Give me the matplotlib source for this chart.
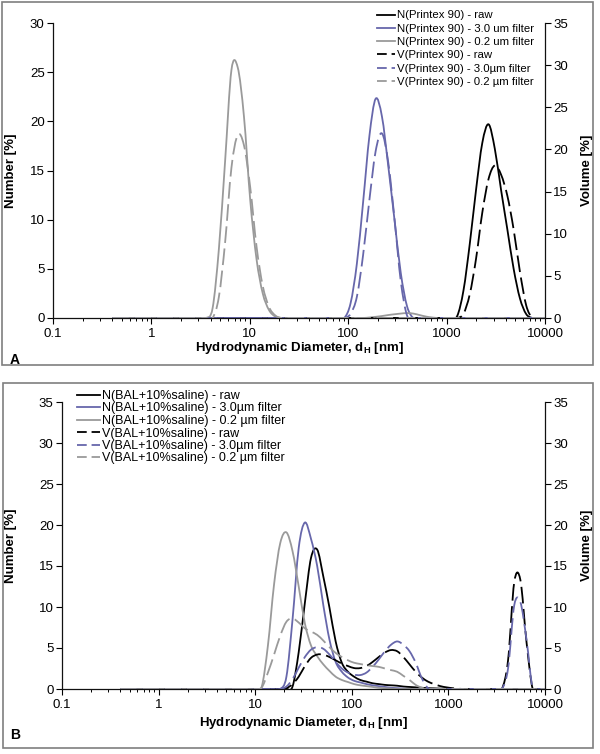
import matplotlib
matplotlib.use('Agg')
import numpy as np
import matplotlib.pyplot as plt
from matplotlib.patches import Rectangle, PathPatch
from matplotlib.path import Path
from matplotlib.lines import Line2D
from matplotlib.ticker import LogLocator, NullFormatter, FuncFormatter, MultipleLocator

# ---------------- data ----------------
# DLS size bins (nm)
SIZES = [0.4, 0.4632, 0.5365, 0.6213, 0.7195, 0.8332, 0.9649, 1.117, 1.294, 1.499,
         1.736, 2.01, 2.328, 2.696, 3.122, 3.615, 4.187, 4.849, 5.615, 6.503,
         7.531, 8.721, 10.1, 11.7, 13.54, 15.69, 18.17, 21.04, 24.36, 28.21,
         32.67, 37.84, 43.82, 50.75, 58.77, 68.06, 78.82, 91.28, 105.7, 122.4,
         141.8, 164.2, 190.1, 220.2, 255.0, 295.3, 342.0, 396.1, 458.7, 531.2,
         615.1, 712.4, 825.0, 955.4, 1106, 1281, 1484, 1718, 1990, 2305,
         2669, 3091, 3580, 4145, 4801, 5560, 6439, 7456, 8635, 10000]

# Panel A (Printex 90): number (left axis) and volume (right axis) distributions, %
A_N_RAW = [0]*55 + [0.2, 2.8, 7.5, 13, 17.8, 19.7, 17.2, 13, 9, 5, 2, 0.4] + [0]*3
A_N_3UM = [0]*38 + [1.5, 5.5, 11.8, 18.5, 22.3, 20.5, 15.5, 10, 4.6, 1.2] + [0]*22
A_N_02UM = ([0]*16 + [1, 7, 16, 25.2, 25.5, 20.5, 12, 6, 2.5, 0.8, 0.15] + [0]*14 +
            [0.05, 0.12, 0.2, 0.3, 0.38, 0.45, 0.5, 0.45, 0.3, 0.15, 0.05] + [0]*18)
A_V_RAW = [0]*56 + [0.5, 2.8, 7, 12.5, 16.5, 18.1, 17, 14.5, 10.5, 5.5, 1.5] + [0]*3
A_V_3UM = [0]*38 + [0.5, 2.5, 7.5, 14, 19.8, 21.9, 18.5, 11.8, 4.4, 0.3] + [0]*22
A_V_02UM = [0]*17 + [2.5, 9, 17.8, 21.7, 20.5, 15.5, 8.5, 3.8, 1.3, 0.3] + [0]*43

A_LABELS = ["N(Printex 90) - raw", "N(Printex 90) - 3.0 um filter",
            "N(Printex 90) - 0.2 um filter", "V(Printex 90) - raw",
            "V(Printex 90) - 3.0\u00b5m filter", "V(Printex 90) - 0.2 \u00b5m filter"]

# Panel B (BAL + 10% saline)
B_N_RAW = [0]*28 + [0.3, 4.5, 10.5, 16.0, 17.0, 13.7, 9.9, 5.8, 3.2, 2.1, 1.5, 1.1, 0.9,
                    0.7, 0.6, 0.5, 0.45, 0.4, 0.3, 0.25, 0.2, 0.15, 0.1, 0.08, 0.05, 0.03] + [0]*16
B_N_3UM = [0]*27 + [1.5, 8.5, 17.2, 20.3, 18.3, 15.0, 10.2, 6.0, 3.3, 2.1, 1.4, 1.0, 0.8,
                    0.6, 0.45, 0.35, 0.25, 0.15, 0.1, 0.05] + [0]*23
B_N_02UM = [0]*23 + [0.3, 5.3, 12.8, 17.8, 19.1, 16.8, 12.5, 8.0, 5.3, 4.0, 3.0, 2.2, 1.5,
                     1.1, 0.85, 0.6, 0.45, 0.35, 0.25, 0.15, 0.1, 0.05] + [0]*25
B_V_RAW = ([0]*27 + [0.1, 0.6, 1.5, 2.8, 3.8, 4.2, 4.2, 3.9, 3.5, 3.1, 2.8, 2.55, 2.55, 2.8,
                     3.3, 3.9, 4.45, 4.75, 4.6, 3.9, 3.0, 2.1, 1.4, 0.9, 0.6, 0.35, 0.2, 0.1, 0.03]
           + [0]*7 + [3.5, 13.0, 13.3, 5.7] + [0]*3)
B_V_3UM = ([0]*27 + [0.3, 1.2, 2.6, 3.9, 4.8, 5.1, 4.9, 4.2, 3.3, 2.5, 2.0, 1.75, 1.7, 2.0,
                     2.7, 3.6, 4.6, 5.4, 5.8, 5.4, 4.6, 3.2, 1.3, 0.1]
           + [0]*12 + [2.5, 10.2, 10.6, 6.0] + [0]*3)
B_V_02UM = [0]*23 + [0.2, 2.0, 4.2, 6.5, 8.2, 8.6, 8.1, 7.4, 7.0, 6.6, 5.9, 5.1, 4.4, 3.9,
                     3.5, 3.2, 3.05, 2.9, 2.8, 2.7, 2.5, 2.3, 2.1, 1.6, 1.1, 0.5, 0.15] + [0]*20

B_LABELS = ["N(BAL+10%saline) - raw", "N(BAL+10%saline) - 3.0\u00b5m filter",
            "N(BAL+10%saline) - 0.2 \u00b5m filter", "V(BAL+10%saline) - raw",
            "V(BAL+10%saline) - 3.0\u00b5m filter", "V(BAL+10%saline) - 0.2 \u00b5m filter"]

X_TICKS = [0.1, 1, 10, 100, 1000, 10000]

# ---------------- style ----------------
plt.rcParams['font.family'] = ['Liberation Sans', 'DejaVu Sans']
plt.rcParams['mathtext.fontset'] = 'custom'
plt.rcParams['mathtext.rm'] = 'Liberation Sans'
plt.rcParams['mathtext.bf'] = 'Liberation Sans:bold'
plt.rcParams['lines.scale_dashes'] = False

BLACK = '#000000'
BLUE = '#6767AB'
GRAY = '#9A9A9A'
COLORS = [BLACK, BLUE, GRAY]
LW = 1.3
DASH = (12, 4)

fig = plt.figure(figsize=(6, 7.54), dpi=100)
W, H = 600.0, 754.0


def fig_rect(x0, y_top, x1, y_bot):
    return [x0 / W, 1 - y_bot / H, (x1 - x0) / W, (y_bot - y_top) / H]


def smooth_path(xs, ys):
    """Smoothed (Excel-like) line through the data points: cubic Bezier
    segments through every point, built in log10(x) space."""
    u = np.log10(np.asarray(xs, float))
    y = np.asarray(ys, float)
    pts = np.column_stack([u, y])
    n = len(pts)
    verts = [pts[0]]
    codes = [Path.MOVETO]
    for i in range(n - 1):
        p0 = pts[i - 1] if i > 0 else pts[i]
        p1 = pts[i]
        p2 = pts[i + 1]
        p3 = pts[i + 2] if i + 2 < n else pts[i + 1]
        c1 = p1 + (p2 - p0) / 6.0
        c2 = p2 - (p3 - p1) / 6.0
        verts += [c1, c2, p2]
        codes += [Path.CURVE4] * 3
    verts = np.array(verts)
    verts[:, 0] = 10 ** verts[:, 0]
    return Path(verts, codes)


def draw_series(ax, vals, color, dashed):
    ls = (0, DASH) if dashed else '-'
    patch = PathPatch(smooth_path(SIZES, vals), fill=False, edgecolor=color, lw=LW,
                      linestyle=ls, joinstyle='round', capstyle='butt',
                      transform=ax.transData)
    ax.add_patch(patch)
    if dashed:
        return Line2D([], [], color=color, lw=LW, dashes=(7, 3.5))
    return Line2D([], [], color=color, lw=LW)


def make_panel(rect, n_series, v_series, ymax_left, ymax_right,
               ylab_x, ylab2_x, xlab_y):
    ax = fig.add_axes(rect)
    ax2 = ax.twinx()
    ax.set_xscale('log')
    ax.set_xlim(0.1, 10000)
    ax.set_ylim(0, ymax_left)
    ax2.set_ylim(0, ymax_right)
    handles = []
    for vals, c in zip(n_series, COLORS):
        handles.append(draw_series(ax, vals, c, False))
    for vals, c in zip(v_series, COLORS):
        handles.append(draw_series(ax2, vals, c, True))
    ax.set_xlim(0.1, 10000)
    ax.set_ylim(0, ymax_left)
    ax2.set_ylim(0, ymax_right)

    ax.set_xticks(X_TICKS)
    ax.xaxis.set_major_formatter(FuncFormatter(lambda v, p: '{:g}'.format(v)))
    ax.xaxis.set_minor_locator(LogLocator(base=10, subs=range(2, 10), numticks=20))
    ax.xaxis.set_minor_formatter(NullFormatter())
    ax.yaxis.set_major_locator(MultipleLocator(5))
    ax2.yaxis.set_major_locator(MultipleLocator(5))

    for s in ['top', 'right']:
        ax.spines[s].set_visible(False)
    for s in ['top', 'left', 'bottom']:
        ax2.spines[s].set_visible(False)
    for sp in [ax.spines['left'], ax.spines['bottom'], ax2.spines['right']]:
        sp.set_linewidth(0.9)
        sp.set_color('#111111')

    ax.tick_params(axis='y', direction='out', length=4, width=0.8, labelsize=9.5, pad=2)
    ax2.tick_params(axis='y', direction='out', length=4, width=0.8, labelsize=9.5, pad=2)
    ax.tick_params(axis='x', which='major', direction='out', length=4, width=0.8,
                   labelsize=9.5, pad=3)
    ax.tick_params(axis='x', which='minor', direction='out', length=2.5, width=0.7)

    ax.set_ylabel('Number [%]', fontsize=9.5, fontweight='bold')
    ax.yaxis.set_label_coords(ylab_x, 0.5)
    ax2.set_ylabel('Volume [%]', fontsize=9.5, fontweight='bold', rotation=90)
    ax2.yaxis.set_label_coords(ylab2_x, 0.5)
    ax.set_xlabel(r'Hydrodynamic Diameter, d$_{\mathbf{H}}$ [nm]', fontsize=9.5,
                  fontweight='bold')
    ax.xaxis.set_label_coords(0.5, xlab_y)
    ax.xaxis.label.set_va('center')
    return ax, ax2, handles


# ---------------- panel A ----------------
axA, axA2, hA = make_panel(fig_rect(53, 23, 545, 318),
                           [A_N_RAW, A_N_3UM, A_N_02UM], [A_V_RAW, A_V_3UM, A_V_02UM],
                           30, 35,
                           (17 - 53) / 492.0, (581 - 53) / 492.0, -(348 - 318) / 295.0)
axA2.legend(hA, A_LABELS, loc='upper right', bbox_to_anchor=(534 / W, 1 - 10.5 / H),
            bbox_transform=fig.transFigure, frameon=False, fontsize=8.2,
            handlelength=1.6, handletextpad=0.15, labelspacing=0.29,
            borderpad=0, borderaxespad=0)

# ---------------- panel B ----------------
axB, axB2, hB = make_panel(fig_rect(62, 402, 545, 689),
                           [B_N_RAW, B_N_3UM, B_N_02UM], [B_V_RAW, B_V_3UM, B_V_02UM],
                           35, 35,
                           (17 - 62) / 483.0, (581 - 62) / 483.0, -(723 - 689) / 287.0)
axB2.legend(hB, B_LABELS, loc='upper left', bbox_to_anchor=(77 / W, 1 - 390 / H),
            bbox_transform=fig.transFigure, frameon=False, fontsize=9.0,
            handlelength=1.85, handletextpad=0.15, labelspacing=0.04,
            borderpad=0, borderaxespad=0)

# ---------------- frames and panel letters ----------------
fig.add_artist(Rectangle((1.5 / W, 1 - 365 / H), 591.5 / W, 363 / H,
                         transform=fig.transFigure, fill=False, ec='#7f7f7f', lw=1.2))
fig.add_artist(Rectangle((3 / W, 1 - 748 / H), 590 / W, 365 / H,
                         transform=fig.transFigure, fill=False, ec='#7f7f7f', lw=1.2))
fig.text(15 / W, 1 - 360 / H, 'A', fontsize=10, fontweight='bold', ha='center', va='center')
fig.text(15 / W, 1 - 735 / H, 'B', fontsize=10, fontweight='bold', ha='center', va='center')

fig.savefig('out.png', dpi=100)
